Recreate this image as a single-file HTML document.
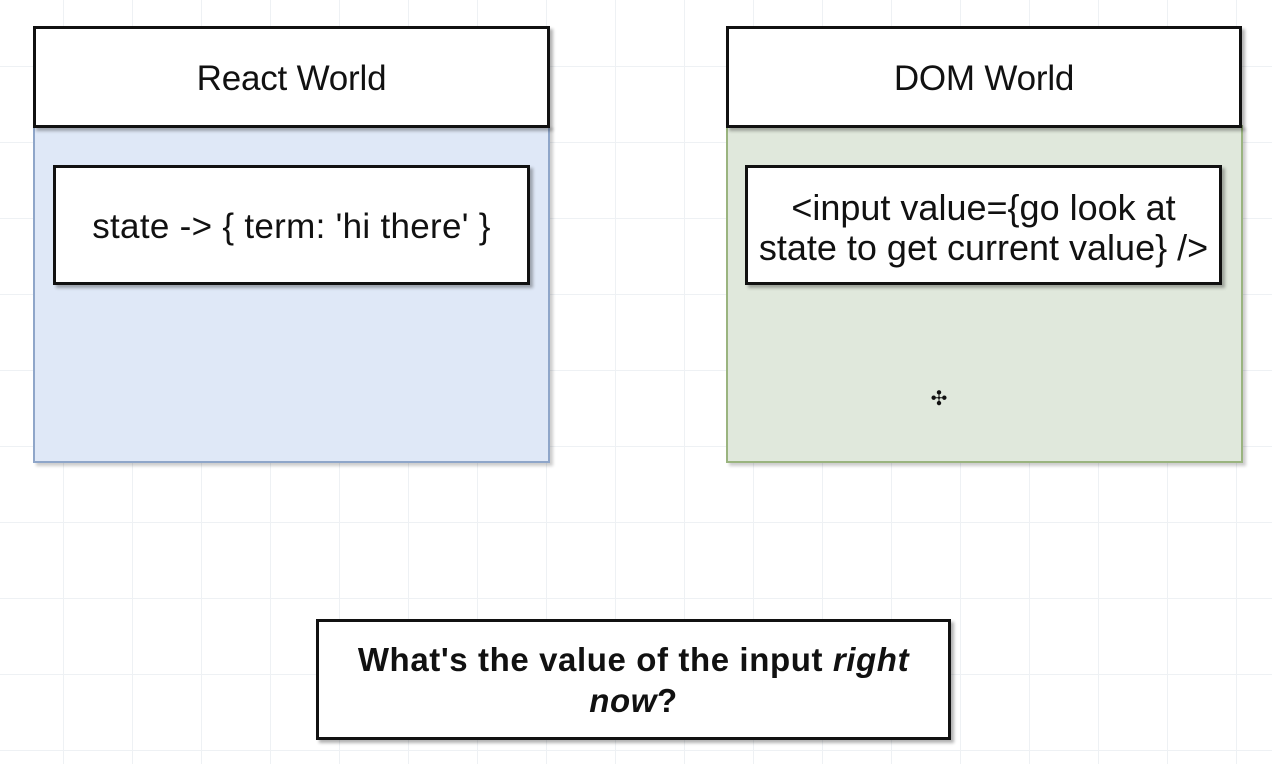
<!DOCTYPE html>
<html><head><meta charset="utf-8"><style>
body{margin:0;width:1272px;height:764px;position:relative;overflow:hidden;background:#fff;
background-image:linear-gradient(#eef1f4 1px,transparent 1px),linear-gradient(90deg,#eef1f4 1px,transparent 1px);
background-size:69px 76px;background-position:-6px -10px;font-family:"Liberation Sans",sans-serif;color:#111}
.b{position:absolute;box-sizing:border-box;display:flex;align-items:center;justify-content:center;text-align:center}
.h{background:#fff;border:3px solid #111;box-shadow:3px 3px 3px rgba(0,0,0,.3);font-size:35px;letter-spacing:-0.2px}
</style></head><body>
<div class="b" style="left:33px;top:125px;width:517px;height:338px;background:#dfe8f7;border:2px solid #8fa6c9;box-shadow:3px 3px 3px rgba(0,0,0,.2)"></div>
<div class="b" style="left:726px;top:125px;width:517px;height:338px;background:#e0e8dc;border:2px solid #9ab47f;box-shadow:3px 3px 3px rgba(0,0,0,.2)"></div>
<div class="b h" style="left:33px;top:26px;width:517px;height:102px;padding-top:3px"><span>React World</span></div>
<div class="b h" style="left:726px;top:26px;width:516px;height:102px;padding-top:3px"><span>DOM World</span></div>
<div class="b h" style="left:53px;top:165px;width:477px;height:120px;letter-spacing:0.3px;padding-top:4px"><span>state -&gt; { term: 'hi there' }</span></div>
<div class="b h" style="left:745px;top:165px;width:477px;height:120px;line-height:40px;letter-spacing:0;font-size:36px;white-space:nowrap;padding-top:6px"><span>&lt;input value={go look at<br>state to get current value} /&gt;</span></div>
<div class="b" style="left:929px;top:388px;font-size:20px;width:20px;height:20px">✣</div>
<div class="b h" style="left:316px;top:619px;width:635px;height:121px;font-weight:bold;font-size:33px;line-height:41px;letter-spacing:0.6px;white-space:nowrap"><span>What's the value of the input <i>right</i><br><i>now</i>?</span></div>
</body></html>
